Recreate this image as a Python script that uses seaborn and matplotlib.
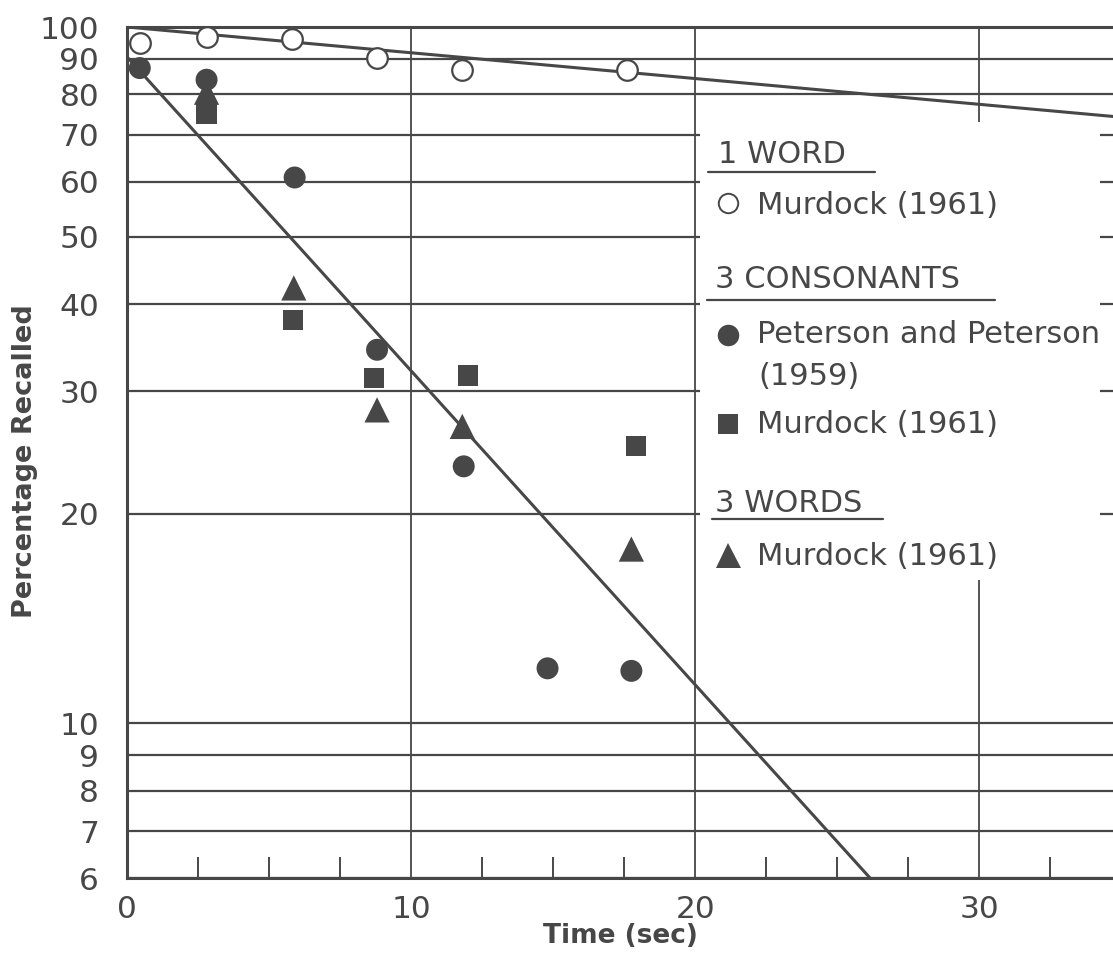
import matplotlib
matplotlib.use("Agg")
import matplotlib.pyplot as plt
import seaborn as sns
from matplotlib.lines import Line2D
from matplotlib.patches import Rectangle
from matplotlib.ticker import FixedLocator, NullLocator, MultipleLocator

# --- data ---
# 1 WORD, Murdock (1961)
time_1word = [0.45, 2.8, 5.8, 8.8, 11.8, 17.6]
pct_1word = [94.8, 96.7, 96.0, 90.2, 86.7, 86.7]

# 3 CONSONANTS, Peterson and Peterson (1959)
time_pp = [0.45, 2.8, 5.9, 8.8, 11.85, 14.8, 17.75]
pct_pp = [87.3, 84.0, 60.8, 34.4, 23.4, 12.0, 11.9]

# 3 CONSONANTS, Murdock (1961)
time_cons = [2.8, 5.85, 8.7, 12.0, 17.9]
pct_cons = [75.0, 38.0, 31.3, 31.6, 25.0]

# 3 WORDS, Murdock (1961)
time_3words = [2.8, 5.87, 8.8, 11.8, 17.75]
pct_3words = [80.6, 42.2, 28.2, 26.7, 17.8]

# fitted lines (end points)
fit_1word_x = [0, 34.7]
fit_1word_y = [100, 74.4]
fit_cons_x = [0, 26.15]
fit_cons_y = [90.6, 6.0]

y_ticks = [6, 7, 8, 9, 10, 20, 30, 40, 50, 60, 70, 80, 90, 100]
x_ticks = [0, 10, 20, 30]

ink = "#474747"
W, H = 1113, 971

sns.set_style("white")
plt.rcParams["font.family"] = ["DejaVu Sans"]

fig = plt.figure(figsize=(W / 100, H / 100), dpi=100)
ax = fig.add_axes([127 / W, 1 - 878 / H, 1 - 127 / W, (878 - 27) / H])
ax.set_yscale("log")

# grid first so marks sit on top
for v in y_ticks:
    ax.axhline(v, color=ink, lw=1.6, zorder=1)
for v in x_ticks[1:]:
    ax.axvline(v, color=ink, lw=1.3, zorder=1)

sns.lineplot(x=fit_1word_x, y=fit_1word_y, color=ink, lw=2.2, ax=ax, zorder=2)
sns.lineplot(x=fit_cons_x, y=fit_cons_y, color=ink, lw=2.2, ax=ax, zorder=2)

sns.scatterplot(x=time_3words, y=pct_3words, marker="^", s=330, color=ink,
                edgecolor="none", ax=ax, zorder=3)
sns.scatterplot(x=time_cons, y=pct_cons, marker="s", s=210, color=ink,
                edgecolor="none", ax=ax, zorder=3)
sns.scatterplot(x=time_pp, y=pct_pp, marker="o", s=250, color=ink,
                edgecolor="none", ax=ax, zorder=3)
sns.scatterplot(x=time_1word, y=pct_1word, marker="o", s=220, facecolor="white",
                edgecolor=ink, linewidth=1.6, ax=ax, zorder=4)

ax.set_xlim(0, 34.7)
ax.set_ylim(6, 100)
ax.yaxis.set_major_locator(FixedLocator(y_ticks))
ax.yaxis.set_minor_locator(NullLocator())
ax.set_yticklabels([str(v) for v in y_ticks])
ax.xaxis.set_major_locator(FixedLocator(x_ticks))
ax.xaxis.set_minor_locator(MultipleLocator(2.5))
ax.tick_params(axis="y", which="both", left=True, length=0, pad=20, labelsize=22.5,
               labelcolor=ink)
ax.tick_params(axis="x", which="major", bottom=True, length=0, pad=12, labelsize=22.5,
               labelcolor=ink)
ax.tick_params(axis="x", which="minor", bottom=True, direction="in", length=15,
               width=1.4, color=ink)

for side in ["left", "bottom", "top"]:
    ax.spines[side].set_color(ink)
    ax.spines[side].set_linewidth(2.2)
ax.spines["right"].set_visible(False)

ax.set_xlabel("Time (sec)", fontsize=19, fontweight="bold", color=ink)
ax.xaxis.set_label_coords(0.5, (878 - 936) / 851)
ax.xaxis.label.set_va("center")
ax.set_ylabel("Percentage Recalled", fontsize=19.5, fontweight="bold", color=ink)
ax.yaxis.set_label_coords((25 - 127) / 986, (878 - 461) / 851)
ax.yaxis.label.set_va("center")


def fx(x):
    return x / W


def fy(y):
    return 1 - y / H


# white panel for the key, hiding the grid behind it
fig.add_artist(Rectangle((fx(700), fy(580)), 400 / W, 458 / H, transform=fig.transFigure,
                         facecolor="white", edgecolor="none", zorder=5))

txt = dict(fontsize=22, color=ink, va="baseline", ha="left", zorder=6)
heads = [("1 WORD", 718, 163, 708, 875, 172),
         ("3 CONSONANTS", 715, 288, 707, 995, 300),
         ("3 WORDS", 715, 512, 712, 883, 519)]
for label, tx, ty, u0, u1, uy in heads:
    fig.text(fx(tx), fy(ty), label, **txt)
    fig.add_artist(Line2D([fx(u0), fx(u1)], [fy(uy), fy(uy)], transform=fig.transFigure,
                          color=ink, lw=1.6, zorder=6))

entries = [("o", "white", 14, 203, 214, "Murdock (1961)"),
           ("o", ink, 15.5, 335, 343, "Peterson and Peterson"),
           ("s", ink, 14.5, 424, 433, "Murdock (1961)"),
           ("^", ink, 18, 555, 565, "Murdock (1961)")]
for mk, fc, ms, my, ty, label in entries:
    fig.add_artist(Line2D([fx(728)], [fy(my)], transform=fig.transFigure, marker=mk,
                          markersize=ms, markerfacecolor=fc, markeredgecolor=ink,
                          markeredgewidth=1.4 if fc == "white" else 0, linestyle="none",
                          zorder=6))
    fig.text(fx(757), fy(ty), label, **txt)
fig.text(fx(758), fy(385), "(1959)", **txt)

fig.savefig("out.png", dpi=100)
